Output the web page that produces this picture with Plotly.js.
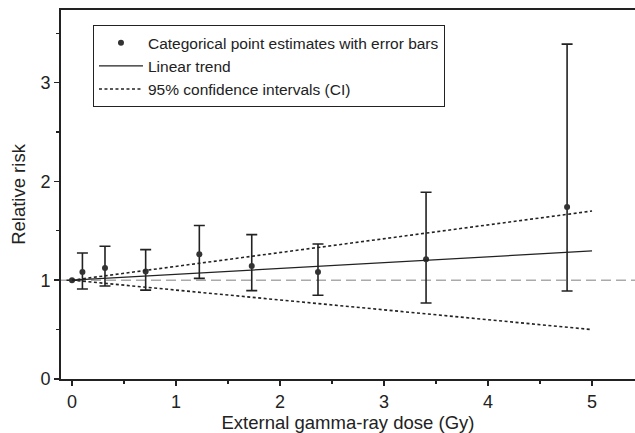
<!DOCTYPE html>
<html>
<head>
<meta charset="utf-8">
<script src="https://cdn.plot.ly/plotly-3.0.1.min.js"></script>
<style>html,body{margin:0;padding:0;background:#fff;}#chart{width:635px;height:433px;}</style>
</head>
<body>
<div id="chart"></div>
<script>
// Categorical point estimates
const dose = [0, 0.1, 0.317, 0.708, 1.224, 1.728, 2.365, 3.404, 4.76];
const relRisk = [1.0, 1.083, 1.123, 1.087, 1.262, 1.144, 1.083, 1.211, 1.741];
const upperCI = [null, 1.275, 1.343, 1.31, 1.553, 1.461, 1.366, 1.89, 3.39];
const lowerCI = [null, 0.911, 0.941, 0.90, 1.019, 0.895, 0.847, 0.77, 0.891];

// Linear trend and its confidence band
const trendDose = [0, 5];
const trendRR = [1.0, 1.296];
const trendUpper = [1.0, 1.70];
const trendLower = [1.0, 0.50];

const refLevel = 1;
const xTicks = [0, 1, 2, 3, 4, 5];
const yTicks = [0, 1, 2, 3];

const errPlus = relRisk.map((v, i) => upperCI[i] == null ? null : upperCI[i] - v);
const errMinus = relRisk.map((v, i) => lowerCI[i] == null ? null : v - lowerCI[i]);

const font = 'Liberation Sans, Arial, Helvetica, sans-serif';

const traces = [
  {
    x: dose, y: relRisk, type: 'scatter', mode: 'markers',
    name: 'Categorical point estimates with error bars',
    marker: {color: '#333', size: 6},
    error_y: {type: 'data', symmetric: false, array: errPlus, arrayminus: errMinus,
              color: '#222', thickness: 1.6, width: 5.5}
  },
  {
    x: trendDose, y: trendRR, type: 'scatter', mode: 'lines',
    name: 'Linear trend', line: {color: '#222', width: 1.2}
  },
  {
    x: trendDose, y: trendUpper, type: 'scatter', mode: 'lines',
    name: '95% confidence intervals (CI)', line: {color: '#222', width: 1.6, dash: '3px,2.5px'}
  },
  {
    x: trendDose, y: trendLower, type: 'scatter', mode: 'lines',
    showlegend: false, line: {color: '#222', width: 1.6, dash: '3px,2.5px'}
  }
];

const layout = {
  width: 635, height: 433,
  margin: {l: 61, r: 0, t: 10, b: 54},
  paper_bgcolor: '#fff', plot_bgcolor: '#fff',
  font: {family: font, color: '#222', size: 16},
  showlegend: true,
  legend: {
    x: 0.0557, y: 0.959, xanchor: 'left', yanchor: 'top',
    bordercolor: '#222', borderwidth: 1, bgcolor: '#fff',
    font: {family: font, size: 15.5, color: '#222'},
    itemwidth: 44,
    tracegroupgap: 0
  },
  xaxis: {
    range: [-0.106, 5.413], tickvals: xTicks, ticktext: xTicks.map(String),
    ticks: 'outside', ticklen: 5, tickwidth: 1.5, tickcolor: '#222',
    minor: {dtick: 0.5, ticks: 'outside', ticklen: 3, tickwidth: 1.2, tickcolor: '#222', showgrid: false},
    showgrid: false, zeroline: false,
    showline: true, linecolor: '#222', linewidth: 2, mirror: true,
    tickfont: {size: 18},
    title: {text: 'External gamma-ray dose (Gy)', font: {size: 18.5}, standoff: 4}
  },
  yaxis: {
    range: [0, 3.735], tickvals: yTicks, ticktext: yTicks.map(String),
    ticks: 'outside', ticklen: 5, tickwidth: 1.5, tickcolor: '#222',
    minor: {dtick: 0.5, ticks: 'outside', ticklen: 3, tickwidth: 1.2, tickcolor: '#222', showgrid: false},
    showgrid: false, zeroline: false,
    showline: true, linecolor: '#222', linewidth: 2,
    tickfont: {size: 18},
    title: {text: 'Relative risk', font: {size: 18.5}, standoff: 10}
  },
  shapes: [
    {type: 'line', xref: 'paper', x0: 0, x1: 1, yref: 'y', y0: refLevel, y1: refLevel,
     line: {color: '#aaa', width: 1.6, dash: '10px,5px'}, layer: 'below'}
  ]
};

Plotly.newPlot('chart', traces, layout, {displayModeBar: false, staticPlot: true});
</script>
</body>
</html>
